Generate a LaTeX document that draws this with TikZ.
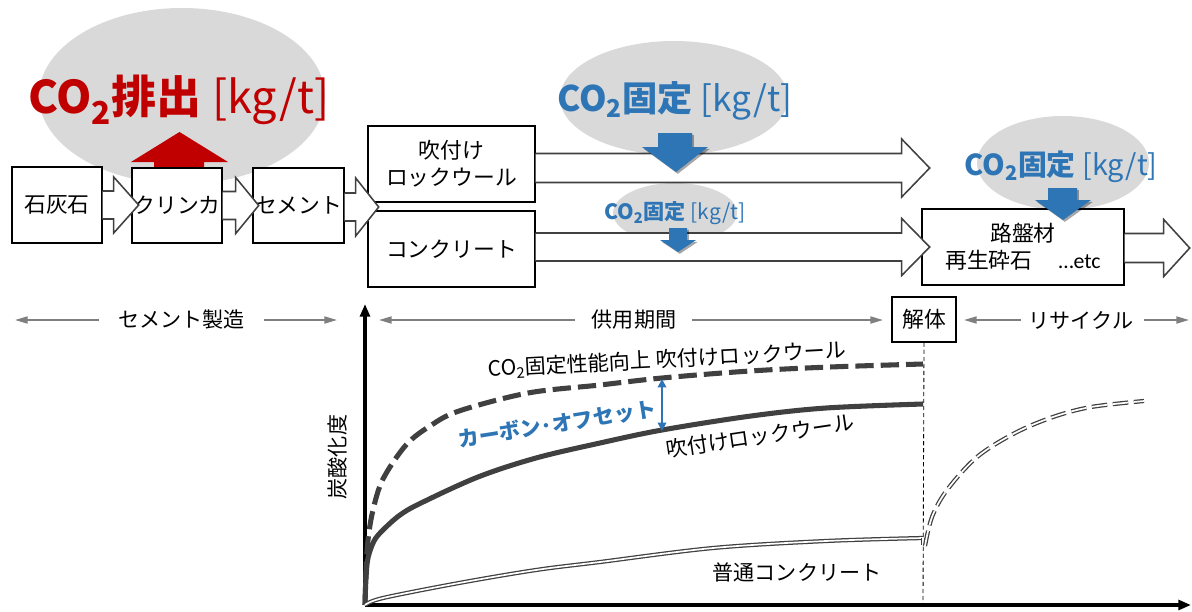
\documentclass[tikz,border=0pt]{standalone}
\usepackage{fontspec}
\setmainfont{Noto Sans CJK JP}
\newfontfamily\latinf{Carlito}
\usetikzlibrary{arrows.meta,shadows,calc}
\definecolor{cred}{HTML}{C00000}
\definecolor{cblue}{HTML}{2E75B6}
\definecolor{cgray}{HTML}{D9D9D9}
\definecolor{cdark}{HTML}{404040}
\definecolor{crange}{HTML}{7F7F7F}
% block arrow: #1 start point, #2 head base distance, #3 tip distance, #4 shaft half, #5 head half
\newcommand{\blkarrow}[5]{%
  \filldraw[blk] (#1) ++(0,-#4) -- ++(#2,0) -- ++(0,#4-#5) -- ++(#3-#2,#5) -- ++(#2-#3,#5) -- ++(0,#4-#5) -- ++(-#2,0);}
\begin{document}
\begin{tikzpicture}[x=0.025cm,y=-0.025cm,
  box/.style 2 args={draw=black, line width=1pt, fill=white, inner sep=0pt,
    minimum width=#1*0.025cm, minimum height=#2*0.025cm,
    font=\fontsize{15.5}{19}\selectfont, align=center},
  blk/.style={draw=cdark, line width=1.1pt, fill=white, line join=miter},
  bluearr/.style={fill=cblue, draw=none, drop shadow={shadow xshift=1.3pt, shadow yshift=-1.3pt, opacity=0.35, fill=black}},
  txt/.style={inner sep=0pt, font=\fontsize{15}{19}\selectfont},
  rng/.style={draw=crange, line width=1.2pt, -{Triangle[length=9pt,width=5pt]}},
  axis/.style={draw=black, line width=2.2pt, -{Triangle[length=9pt,width=7pt]}},
  thickcurve/.style={draw=cdark, line width=3.6pt, line cap=butt},
  dblcurve/.style={draw=cdark, line width=0.9pt, double=white, double distance=1.2pt}
]
\useasboundingbox (0,0) rectangle (1192,612);

% ---------- background ellipses ----------
\fill[cgray] (182,96) ellipse [x radius=143, y radius=88];
\fill[cgray] (674,98) ellipse [x radius=114, y radius=57];
\fill[cgray] (675,213) ellipse [x radius=62, y radius=30];
\fill[cgray] (1063,163) ellipse [x radius=86, y radius=47];

% ---------- red emission arrow ----------
\fill[cred] (154,176) -- (154,162) -- (131,162) -- (179.5,132) -- (228,162) -- (204,162) -- (204,176) -- cycle;

% ---------- process boxes ----------
\node[box={90}{76}] (b1) at (57,205) {石灰石};
\node[box={90}{75}] (b2) at (177,205.5) {クリンカ};
\node[box={91}{75}] (b3) at (298.5,205.5) {セメント};
\node[box={167}{76}] (b4) at (451.5,164) {吹付け\\ロックウール};
\node[box={167}{76}] (b5) at (451.5,249) {コンクリート};
\node[box={202}{76}] (b6) at (1023,247) {路盤材\\再生砕石\hspace{1.2em}{\latinf …etc}};

% ---------- block arrows ----------
\blkarrow{b1.east}{11}{36}{14}{28}
\blkarrow{b2.east}{13}{36}{14}{28}
\blkarrow{$(b3.east)+(0,1.5)$}{11}{34}{14}{29}
\blkarrow{$(b4.east)+(0,4)$}{366}{394}{14.5}{29}
\blkarrow{$(b5.east)+(0,-2)$}{366}{394}{14}{28.5}
\blkarrow{$(b6.east)+(0,1)$}{39}{65}{14.5}{28.5}

% ---------- blue fixation arrows ----------
\fill[bluearr] (658,133) -- (692,133) -- (692,147) -- (708,147) -- (676,172) -- (642,147) -- (658,147) -- cycle;
\fill[bluearr] (669,228) -- (687,228) -- (687,240) -- (696,240) -- (678,252) -- (660,240) -- (669,240) -- cycle;
\fill[bluearr] (1048,188) -- (1077,188) -- (1077,200) -- (1091,200) -- (1063,220) -- (1035,200) -- (1048,200) -- cycle;

% ---------- CO2 labels ----------
\node[inner sep=0pt, text=cred, font=\fontsize{32}{36}\selectfont] (emit) at (179,100)
  {\bfseries CO\textsubscript{2}排出 \mdseries[kg/t]};
\node[inner sep=0pt, text=cblue, font=\fontsize{25}{30}\selectfont] (fix1) at (675,101)
  {\bfseries CO\textsubscript{2}固定 \mdseries[kg/t]};
\node[inner sep=0pt, text=cblue, font=\fontsize{15}{18}\selectfont] (fix2) at (675,213)
  {\bfseries CO\textsubscript{2}固定 \mdseries[kg/t]};
\node[inner sep=0pt, text=cblue, font=\fontsize{20.5}{24}\selectfont] (fix3) at (1061,167)
  {\bfseries CO\textsubscript{2}固定 \mdseries[kg/t]};

% ---------- phase ranges ----------
\node[txt] (p1) at (182,320) {セメント製造};
\node[txt] (p2) at (634,320) {供用期間};
\node[box={64}{45}] (kt) at (924,319.5) {解体};
\node[txt] (p3) at (1081,320) {リサイクル};
\coordinate (r1a) at (99,320);  \coordinate (r1b) at (15,320);
\coordinate (r1c) at (264,320); \coordinate (r1d) at (337,320);
\coordinate (r2a) at (575,320); \coordinate (r2b) at (379,320);
\coordinate (r2c) at (692,320); \coordinate (r2d) at (883,320);
\coordinate (r3a) at (1021,320); \coordinate (r3b) at (964,320);
\coordinate (r3c) at (1144,320); \coordinate (r3d) at (1189,320);
\draw[rng] (r1a) -- (r1b);
\draw[rng] (r1c) -- (r1d);
\draw[rng] (r2a) -- (r2b);
\draw[rng] (r2c) -- (r2d);
\draw[rng] (r3a) -- (r3b);
\draw[rng] (r3c) -- (r3d);

% ---------- axes ----------
\coordinate (O) at (365,605);
\coordinate (ytop) at (365,304);
\coordinate (xend) at (1191,605);
\coordinate (dend) at (923,605);
\draw[black, line width=0.6pt, dash pattern=on 3pt off 2pt] (kt.south) -- (dend);
\draw[axis] (O) -- (ytop);
\draw[axis] (O) -- (xend);
\node[txt, rotate=90] (ylab) at (337,457) {炭酸化度};

% ---------- curves ----------
\draw[thickcurve, dash pattern=on 13pt off 5pt] plot[smooth, tension=0.55] coordinates
  {(365,605) (366,572) (368,540) (373,510) (383,479) (406,445) (430,426) (459,411) (528,393) (600,385) (662,378) (750,371) (830,367) (923,364)};
\draw[thickcurve] plot[smooth, tension=0.55] coordinates
  {(365,605) (366,578) (368,558) (374,541) (383,530) (400,515) (421,503) (478,477) (536,458) (600,443) (662,430) (751,416) (826,408) (923,404)};
\draw[dblcurve] plot[smooth, tension=0.55] coordinates
  {(365,605) (383,598) (459,583) (536,570) (600,562) (713,548) (826,541) (923,538)};
\draw[dblcurve] (923,538) -- (923,545);
\draw[dblcurve, dash pattern=on 11pt off 4pt] plot[smooth, tension=0.55] coordinates
  {(925,546) (932,517) (947,490) (977,457) (1015,433) (1053,417) (1091,407) (1144,401)};

% ---------- curve labels ----------
\node[txt, rotate=3] (lbl1) at (667,360) {CO\textsubscript{2}固定性能向上 吹付けロックウール};
\node[txt, rotate=8.5] (lbl2) at (760,436) {吹付けロックウール};
\node[txt, rotate=9, text=cblue, font=\fontsize{15}{19}\selectfont\bfseries] (lbl3) at (557,424) {カーボン･オフセット};
\node[txt] (lbl4) at (797,572) {普通コンクリート};
\coordinate (off1) at (662,379);
\coordinate (off2) at (662,431);
\draw[cblue, line width=2pt, {Triangle[length=6pt,width=6pt]}-{Triangle[length=6pt,width=6pt]}] (off1) -- (off2);
\end{tikzpicture}
\end{document}
